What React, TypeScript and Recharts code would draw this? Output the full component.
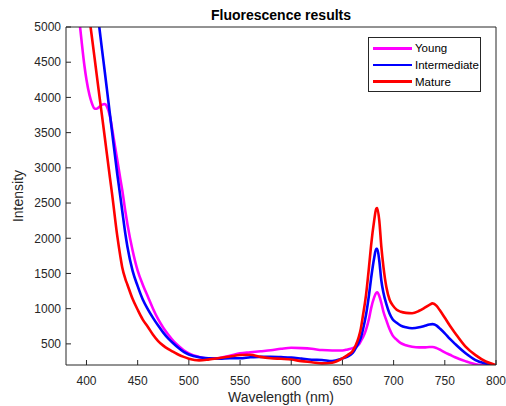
import React from 'react';
import { LineChart, Line, XAxis, YAxis, Label } from 'recharts';

// wavelength (nm) sample points
const wavelengths = [
  380, 385, 390, 393, 395, 398, 400, 403, 405, 408,
  410, 413, 415, 418, 420, 423, 425, 430, 433, 435,
  438, 440, 445, 450, 455, 460, 465, 470, 475, 480,
  485, 490, 495, 500, 510, 520, 530, 540, 550, 560,
  570, 580, 590, 600, 610, 620, 630, 640, 650, 655,
  660, 663, 666, 668, 670, 673, 676, 678, 681, 683,
  684, 686, 688, 690, 693, 696, 699, 703, 707, 712,
  718, 725, 730, 735, 738, 742, 745, 750, 755, 760,
  770, 780, 790, 800,
];

const young = [
  7000, 6200, 5500, 5100, 4830, 4450, 4250, 4030, 3930, 3840,
  3840, 3870, 3895, 3906, 3870, 3730, 3560, 3120, 2850, 2680,
  2380, 2200, 1830, 1540, 1340, 1170, 1000, 850, 730, 630,
  540, 470, 410, 365, 315, 290, 300, 330, 365, 380,
  395, 410, 430, 445, 440, 430, 412, 405, 405, 420,
  440, 460, 490, 540, 590, 700, 860, 1004, 1160, 1225,
  1232, 1180, 1080, 960, 830, 710, 620, 560, 510, 480,
  460, 450, 450, 455, 455, 440, 420, 380, 345, 310,
  255, 210, 190, 175,
];

const intermediate = [
  8870, 8270, 7680, 7320, 7080, 6730, 6490, 6130, 5890, 5540,
  5300, 4940, 4700, 4350, 4110, 3750, 3510, 2920, 2600, 2380,
  2060, 1880, 1540, 1320, 1130, 990, 870, 760, 660, 575,
  505, 440, 385, 350, 310, 295, 290, 295, 295, 310,
  315, 317, 312, 305, 290, 275, 270, 256, 294, 320,
  370, 440, 520, 590, 700, 909, 1200, 1430, 1720, 1850,
  1850, 1680, 1400, 1230, 1060, 930, 850, 800, 760, 735,
  722, 735, 755, 775, 780, 760, 720, 650, 570, 500,
  370, 270, 220, 190,
];

const mature = [
  7710, 7150, 6580, 6240, 6020, 5680, 5450, 5110, 4890, 4550,
  4320, 3980, 3760, 3420, 3190, 2850, 2630, 2040, 1750, 1580,
  1420, 1340, 1140, 985, 845, 740, 630, 540, 475, 425,
  385, 345, 315, 290, 265, 280, 300, 320, 341, 345,
  315, 297, 288, 278, 255, 240, 223, 232, 294, 340,
  400, 480, 600, 720, 900, 1190, 1600, 1900, 2250, 2420,
  2430, 2250, 1880, 1600, 1300, 1130, 1050, 985, 956, 940,
  935, 970, 1010, 1055, 1075, 1040, 980, 870, 757, 655,
  465, 340, 250, 200,
];

const xTicks = [400, 450, 500, 550, 600, 650, 700, 750, 800];
const yTicks = [500, 1000, 1500, 2000, 2500, 3000, 3500, 4000, 4500, 5000];
const seriesKeys = ['young', 'intermediate', 'mature'];
const seriesNames = ['Young', 'Intermediate', 'Mature'];

const colors: Record<string, string> = {
  young: '#ff00ff',
  intermediate: '#0000ff',
  mature: '#ff0000',
};

const data = wavelengths.map((wl, i) => ({
  wl,
  young: young[i],
  intermediate: intermediate[i],
  mature: mature[i],
}));

const FONT = '"Liberation Sans", Arial, Helvetica, sans-serif';
const AXIS = '#262626';

const LegendBox = () => (
  <div
    style={{
      position: 'absolute',
      left: 368,
      top: 37,
      width: 111,
      height: 51,
      border: `1px solid ${AXIS}`,
      background: '#fff',
      paddingTop: 2,
      fontFamily: FONT,
      fontSize: 11.5,
      color: '#000',
    }}
  >
    {seriesKeys.map((k, i) => (
      <div key={k} style={{ display: 'flex', alignItems: 'center', height: 16.7 }}>
        <div style={{ marginLeft: 4, width: 39, height: 2.5, background: colors[k] }} />
        <span style={{ marginLeft: 3 }}>{seriesNames[i]}</span>
      </div>
    ))}
  </div>
);

export default function App() {
  return (
    <div style={{ position: 'absolute', left: 0, top: 0, width: 506, height: 406, background: '#fff' }}>
      <div
        style={{
          position: 'absolute',
          left: 66,
          width: 430,
          top: 7,
          textAlign: 'center',
          fontFamily: FONT,
          fontWeight: 'bold',
          fontSize: 14,
          color: '#000',
        }}
      >
        Fluorescence results
      </div>
      <LineChart
        width={506}
        height={406}
        data={data}
        margin={{ top: 26, right: 9, left: 16, bottom: 0 }}
        style={{ fontFamily: FONT }}
      >
        <XAxis
          xAxisId="top"
          orientation="top"
          dataKey="wl"
          type="number"
          domain={[380, 800]}
          ticks={xTicks}
          height={1}
          tick={false}
          tickSize={-5}
          stroke={AXIS}
          allowDataOverflow
        />
        <YAxis
          yAxisId="r"
          orientation="right"
          type="number"
          domain={[200, 5000]}
          ticks={yTicks}
          width={1}
          tick={false}
          tickSize={-5}
          stroke={AXIS}
          allowDataOverflow
        />
        <XAxis
          dataKey="wl"
          type="number"
          domain={[380, 800]}
          ticks={xTicks}
          height={41}
          tickSize={-5}
          tickMargin={16}
          stroke={AXIS}
          tick={{ fill: AXIS, fontSize: 12 }}
          allowDataOverflow
        >
          <Label value="Wavelength (nm)" position="insideBottom" offset={4} style={{ fill: AXIS, fontSize: 14 }} />
        </XAxis>
        <YAxis
          type="number"
          domain={[200, 5000]}
          ticks={yTicks}
          width={50}
          tickSize={-5}
          tickMargin={10}
          stroke={AXIS}
          tick={{ fill: AXIS, fontSize: 12 }}
          allowDataOverflow
        >
          <Label
            value="Intensity"
            angle={-90}
            position="insideLeft"
            offset={2.5}
            style={{ fill: AXIS, fontSize: 14, textAnchor: 'middle' }}
          />
        </YAxis>
        <Line
          xAxisId="top"
          yAxisId="r"
          dataKey="young"
          stroke="none"
          dot={false}
          activeDot={false}
          legendType="none"
          isAnimationActive={false}
        />
        {seriesKeys.map((k) => (
          <Line
            key={k}
            type="monotone"
            dataKey={k}
            name={k}
            stroke={colors[k]}
            strokeWidth={2.6}
            dot={false}
            activeDot={false}
            isAnimationActive={false}
          />
        ))}
      </LineChart>
      <LegendBox />
    </div>
  );
}
